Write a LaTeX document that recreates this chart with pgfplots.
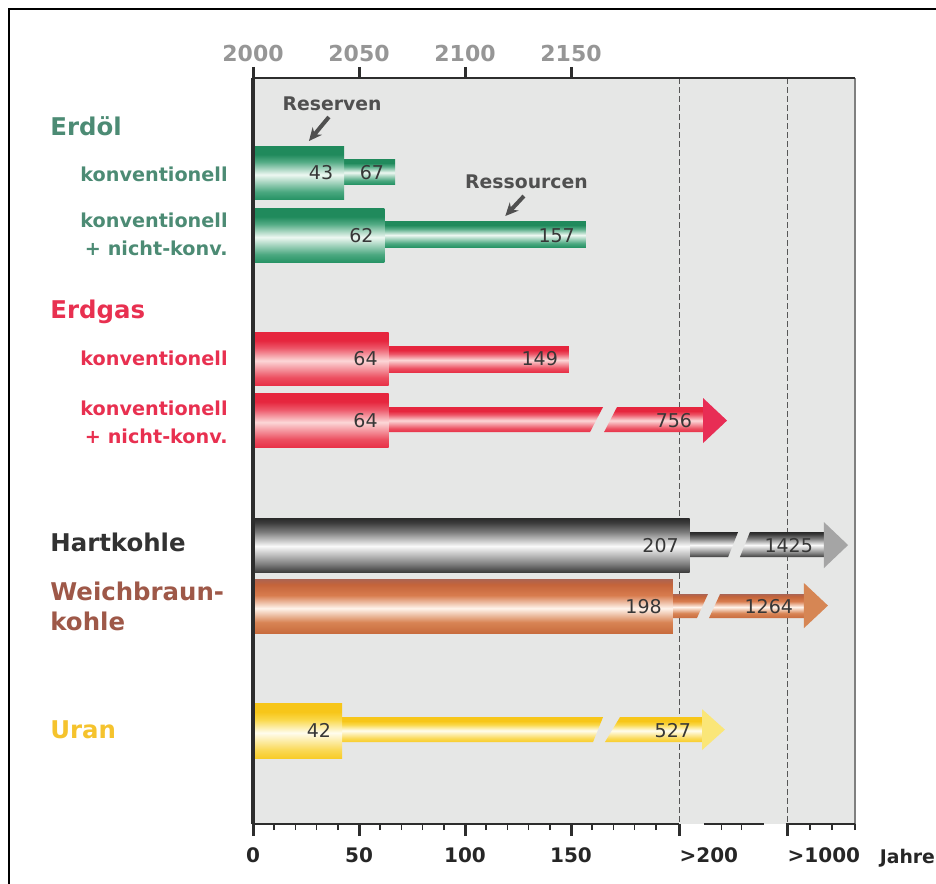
\documentclass[border=0pt]{standalone}
\usepackage{fontspec}
\setmainfont{DejaVu Sans}
\usepackage{pgfplots}
\pgfplotsset{compat=1.18}
\usetikzlibrary{arrows.meta}

\definecolor{bggrey}{RGB}{230,231,230}
\definecolor{axisdark}{RGB}{45,45,45}
\definecolor{tgreen}{RGB}{76,139,116}
\definecolor{tred}{RGB}{232,48,80}
\definecolor{tgrey}{RGB}{50,50,50}
\definecolor{tbrown}{RGB}{158,88,72}
\definecolor{tyellow}{RGB}{245,195,45}
\definecolor{numcol}{RGB}{55,55,55}
\definecolor{yrgrey}{RGB}{150,150,150}
\definecolor{anncol}{RGB}{80,80,80}

% green
\definecolor{g1}{RGB}{40,148,102}\definecolor{g2}{RGB}{75,168,128}\definecolor{g3}{RGB}{238,248,242}
\definecolor{g4}{RGB}{85,172,134}\definecolor{g5}{RGB}{32,138,92}
% red
\definecolor{r1}{RGB}{232,50,72}\definecolor{r2}{RGB}{236,78,96}\definecolor{r3}{RGB}{252,215,215}
\definecolor{r4}{RGB}{237,86,104}\definecolor{r5}{RGB}{230,38,62}
% grey
\definecolor{k0}{RGB}{62,62,62}\definecolor{k1}{RGB}{130,130,130}\definecolor{k3}{RGB}{250,250,250}
\definecolor{k4}{RGB}{125,125,125}\definecolor{k5}{RGB}{58,58,58}\definecolor{k6}{RGB}{42,42,42}
% brown
\definecolor{b0}{RGB}{200,108,62}\definecolor{b1}{RGB}{216,132,84}\definecolor{b3}{RGB}{255,244,236}
\definecolor{b4}{RGB}{216,124,78}\definecolor{b5}{RGB}{196,100,58}\definecolor{b6}{RGB}{172,100,82}
% yellow
\definecolor{y1}{RGB}{248,204,40}\definecolor{y2}{RGB}{250,216,82}\definecolor{y3}{RGB}{255,253,238}
\definecolor{y4}{RGB}{250,216,74}\definecolor{y5}{RGB}{247,198,25}
% arrow heads
\definecolor{rH}{RGB}{232,45,85}
\definecolor{kH}{RGB}{165,165,165}
\definecolor{bH}{RGB}{214,134,84}
\definecolor{yH}{RGB}{250,230,120}

\pgfdeclareverticalshading{greenbar}{100bp}{color(0bp)=(g1); color(25bp)=(g1); color(32bp)=(g2); color(48bp)=(g3); color(60bp)=(g4); color(67bp)=(g5); color(100bp)=(g5)}
\pgfdeclareverticalshading{redbar}{100bp}{color(0bp)=(r1); color(25bp)=(r1); color(32bp)=(r2); color(48bp)=(r3); color(60bp)=(r4); color(67bp)=(r5); color(100bp)=(r5)}
\pgfdeclareverticalshading{greybar}{100bp}{color(0bp)=(k0); color(25bp)=(k0); color(33bp)=(k1); color(49bp)=(k3); color(62bp)=(k4); color(71bp)=(k5); color(75bp)=(k6); color(100bp)=(k6)}
\pgfdeclareverticalshading{brownbar}{100bp}{color(0bp)=(b0); color(25bp)=(b0); color(35bp)=(b1); color(48bp)=(b3); color(60bp)=(b4); color(70bp)=(b5); color(75bp)=(b6); color(100bp)=(b6)}
\pgfdeclareverticalshading{yellowbar}{100bp}{color(0bp)=(y1); color(25bp)=(y1); color(32bp)=(y2); color(48bp)=(y3); color(60bp)=(y4); color(67bp)=(y5); color(100bp)=(y5)}

% plain bar: shading, top y, bottom y, value
\newcommand{\plainbar}[4]{\addplot[draw=none, shade, shading=#1] coordinates {(0,#2) (#4,#2) (#4,#3) (0,#3)} -- cycle;}
% broken shaft: shading, ytop, ybot, xtopL, xbotL, xtopR, xbotR, xend
\newcommand{\brokenshaft}[8]{%
\addplot[draw=none, shade, shading=#1] coordinates {(0,#2) (#4,#2) (#5,#3) (0,#3)} -- cycle;
\addplot[draw=none, shade, shading=#1] coordinates {(#6,#2) (#8,#2) (#8,#3) (#7,#3)} -- cycle;}
% arrow head: colour, ytop, ybot, ymid, xbase, xtip
\newcommand{\arrowhead}[6]{\addplot[draw=none, fill=#1] coordinates {(#5,#2) (#6,#4) (#5,#3)} -- cycle;}

\newcommand{\catfont}{\fontsize{12.2}{14}\selectfont\bfseries}
\newcommand{\subfont}{\fontsize{9.6}{11}\selectfont\bfseries}
\newcommand{\numfont}{\fontsize{9.5}{11}\selectfont}
\newcommand{\annfont}{\fontsize{9.4}{11}\selectfont\bfseries}

\tikzset{
  numlab/.style={anchor=base east, font=\numfont, text=numcol, inner sep=0pt},
  catlab/.style={anchor=base west, font=\catfont, inner sep=0pt},
  sublab/.style={anchor=base east, font=\subfont, inner sep=0pt},
}

\begin{document}
\begin{tikzpicture}
% ---------- data axis ----------
\begin{axis}[
  name=main,
  scale only axis, width=301pt, height=373pt,
  xmin=0, xmax=284, ymin=78, ymax=824, y dir=reverse,
  clip=false,
  axis background/.style={fill=bggrey},
  axis line style={draw=none},
  xtick=\empty, ytick=\empty,
]
% dashed reference lines and right border
\draw[axisdark!80, line width=0.5pt, dash pattern=on 3pt off 1.5pt] (axis cs:201,78) -- (axis cs:201,824);
\draw[axisdark!80, line width=0.5pt, dash pattern=on 3pt off 1.5pt] (axis cs:252,78) -- (axis cs:252,824);
\draw[gray, line width=0.6pt] (axis cs:284,78) -- (axis cs:284,824);

% Erdoel konventionell
\plainbar{greenbar}{159}{184}{67}
\plainbar{greenbar}{146}{199}{43}
% Erdoel konv + nicht-konv
\plainbar{greenbar}{221}{247}{157}
\plainbar{greenbar}{208}{262}{62}
% Erdgas konventionell
\plainbar{redbar}{346}{372}{149}
\plainbar{redbar}{332}{385}{64}
% Erdgas konv + nicht-konv (756)
\brokenshaft{redbar}{407}{432}{165.1}{159.0}{171.7}{165.6}{212.3}
\arrowhead{rH}{398}{443}{420.5}{212.3}{223.6}
\plainbar{redbar}{393}{447}{64}
% Hartkohle (207 / 1425)
\brokenshaft{greybar}{532}{557}{228.8}{224.1}{234.4}{229.7}{269.3}
\arrowhead{kH}{522}{568}{545}{269.3}{280.7}
\plainbar{greybar}{518}{572}{206}
% Weichbraunkohle (198 / 1264)
\brokenshaft{brownbar}{594}{618}{214.6}{209.4}{220.3}{215.1}{259.9}
\arrowhead{bH}{583}{628}{605.5}{259.9}{271.2}
\plainbar{brownbar}{579}{633}{198}
% Uran (42 / 527)
\brokenshaft{yellowbar}{717}{742}{165.1}{160.4}{173.1}{166.0}{211.8}
\arrowhead{yH}{709}{750}{729.5}{211.8}{222.6}
\plainbar{yellowbar}{703}{758}{42}

% values
\node[numlab] at (axis cs:38,179.5) {43};
\node[numlab] at (axis cs:62,179.5) {67};
\node[numlab] at (axis cs:57,242) {62};
\node[numlab] at (axis cs:152,242) {157};
\node[numlab] at (axis cs:59,365.5) {64};
\node[numlab] at (axis cs:144,365.5) {149};
\node[numlab] at (axis cs:59,427) {64};
\node[numlab] at (axis cs:207.3,427) {756};
\node[numlab] at (axis cs:201,552) {207};
\node[numlab] at (axis cs:264.3,552) {1425};
\node[numlab] at (axis cs:193,613) {198};
\node[numlab] at (axis cs:254.9,613) {1264};
\node[numlab] at (axis cs:37,737) {42};
\node[numlab] at (axis cs:206.8,737) {527};

% annotations
\node[anchor=base, font=\annfont, text=anncol, inner sep=0pt] at (axis cs:37.3,110) {Reserven};
\node[anchor=base, font=\annfont, text=anncol, inner sep=0pt] at (axis cs:129,188) {Ressourcen};
\draw[anncol, line width=2pt, -{Stealth[length=6.5pt,width=6pt]}] (axis cs:35.8,117) -- (axis cs:26.4,141);
\draw[anncol, line width=2pt, -{Stealth[length=6.5pt,width=6pt]}] (axis cs:127.8,196) -- (axis cs:119,216);

% category labels
\node[catlab, text=tgreen] at (axis cs:-95.75,135) {Erdöl};
\node[sublab, text=tgreen] at (axis cs:-11.8,181) {konventionell};
\node[sublab, text=tgreen] at (axis cs:-11.8,227) {konventionell};
\node[sublab, text=tgreen] at (axis cs:-11.8,255) {+ nicht-konv.};
\node[catlab, text=tred] at (axis cs:-95.75,318) {Erdgas};
\node[sublab, text=tred] at (axis cs:-11.8,365) {konventionell};
\node[sublab, text=tred] at (axis cs:-11.8,415) {konventionell};
\node[sublab, text=tred] at (axis cs:-11.8,443) {+ nicht-konv.};
\node[catlab, text=tgrey] at (axis cs:-95.75,551) {Hartkohle};
\node[catlab, text=tbrown] at (axis cs:-95.75,600) {Weichbraun-};
\node[catlab, text=tbrown] at (axis cs:-95.75,630) {kohle};
\node[catlab, text=tyellow] at (axis cs:-95.75,738) {Uran};
\node[anchor=base west, font=\fontsize{9.4}{12}\selectfont\bfseries, text=black!85, inner sep=0pt] at (axis cs:295.5,863) {Jahre};

% outer frame and bounding box corners
\draw[black, line width=1pt] (axis cs:-115.1,890) -- (axis cs:-115.1,9) -- (axis cs:330,9);
\coordinate (BL) at (axis cs:-119.34,883);
\coordinate (TR) at (axis cs:322.17,0);
\end{axis}

% ---------- bottom scale axis ----------
\begin{axis}[
  at={(main.south west)}, anchor=south west,
  scale only axis, width=301pt, height=373pt,
  xmin=0, xmax=284, ymin=0, ymax=1,
  axis x line*=bottom, axis y line*=left,
  x axis line style={draw=none},
  y axis line style={line width=2pt, axisdark, -},
  ytick=\empty,
  xtick={0,50,100,150}, xticklabels={0,50,100,150},
  extra x ticks={201,252}, extra x tick labels={>200,>1000},
  extra x tick style={xticklabel style={anchor=north west, xshift=-3.3pt}},
  minor xtick={10,20,30,40,60,70,80,90,110,120,130,140,160,170,180,190,221,230.4,262.7,273.1,283.9},
  tick align=outside,
  major tick length=6pt, minor tick length=3pt,
  major tick style={line width=1.5pt, axisdark},
  minor tick style={line width=0.8pt, axisdark},
  xticklabel style={font=\fontsize{10}{12}\selectfont\bfseries, text=black!85, yshift=-2pt},
]
\draw[axisdark, line width=1.5pt] (axis cs:0,0) -- (axis cs:201,0);
\draw[axisdark, line width=1.5pt] (axis cs:212.7,0) -- (axis cs:241,0);
\draw[axisdark, line width=1.5pt] (axis cs:251.4,0) -- (axis cs:284.5,0);
\end{axis}

% ---------- top scale axis ----------
\begin{axis}[
  at={(main.south west)}, anchor=south west,
  scale only axis, width=301pt, height=373pt,
  xmin=0, xmax=284, ymin=0, ymax=1,
  axis x line*=top, axis y line=none,
  x axis line style={line width=1pt, axisdark, -},
  ytick=\empty,
  xtick={0,50,100,150}, xticklabels={2000,2050,2100,2150},
  tick align=outside, major tick length=5.5pt,
  major tick style={line width=1.5pt, axisdark},
  xticklabel style={font=\fontsize{11}{13}\selectfont\bfseries, text=yrgrey, yshift=-1pt},
]
\end{axis}
\pgfresetboundingbox
\path (BL) rectangle (TR);
\end{tikzpicture}
\end{document}
